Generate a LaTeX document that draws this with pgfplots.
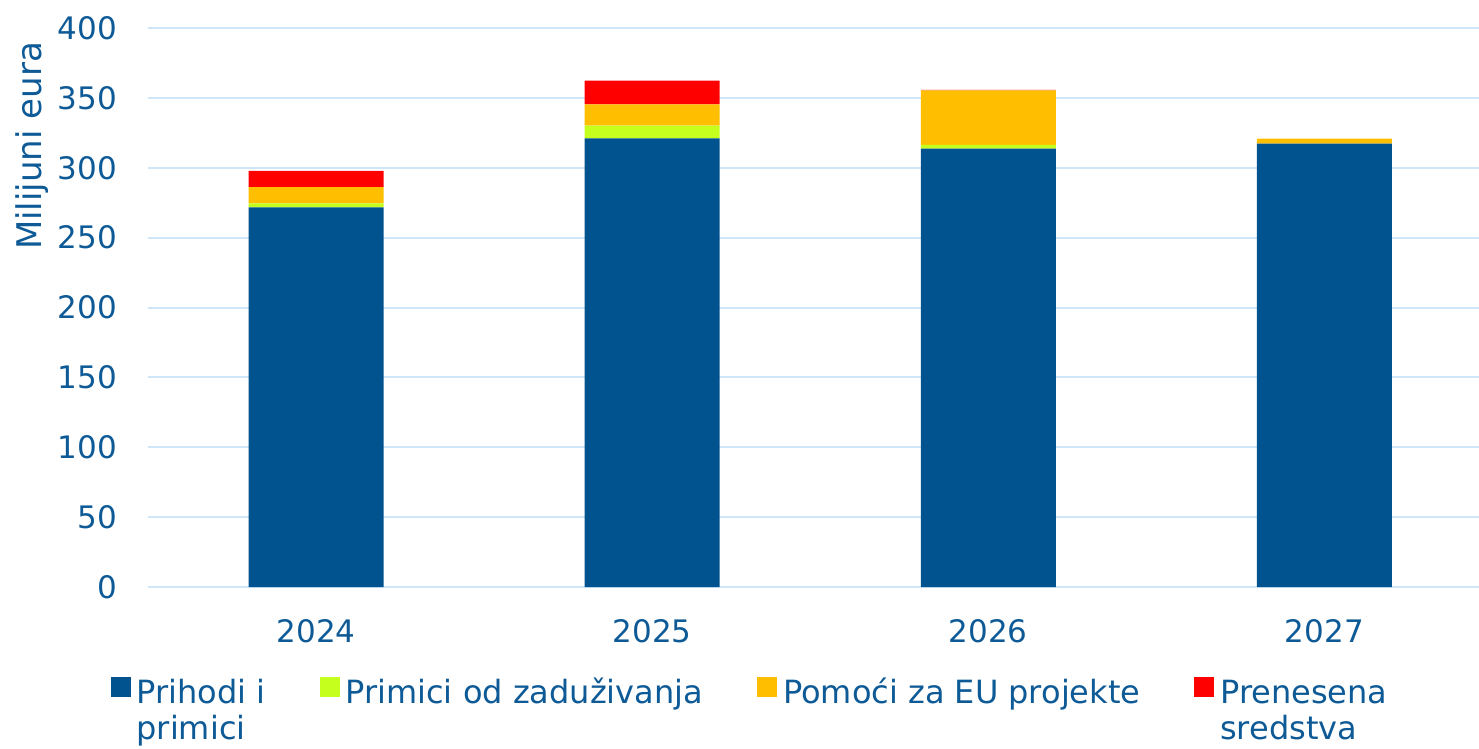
\documentclass[border=0pt]{standalone}
\usepackage{fontspec}
\setmainfont{DejaVu Sans}
\usepackage{pgfplots}
\pgfplotsset{compat=1.18}
\definecolor{cblue}{HTML}{00538F}
\definecolor{cgreen}{HTML}{C4FF1E}
\definecolor{corange}{HTML}{FFBF00}
\definecolor{cred}{HTML}{FF0000}
\definecolor{ctext}{HTML}{0D5A96}
\definecolor{cgrid}{HTML}{CFE6F8}
\begin{document}
\fontsize{31}{38}\selectfont
\begin{tikzpicture}
\path[use as bounding box] (-148pt,-161pt) rectangle (1331pt,587pt);
\begin{axis}[
  at={(0pt,0pt)}, anchor=south west,
  scale only axis,
  width=1331pt, height=559pt,
  ybar stacked, bar width=135pt,
  xmin=-0.5, xmax=3.46,
  ymin=0, ymax=400,
  ytick={0,50,...,400},
  xtick={0,1,2,3},
  xticklabels={2024,2025,2026,2027},
  axis line style={draw=none},
  major tick length=0pt,
  ymajorgrids, grid style={cgrid, line width=2pt},
  tick label style={font=\fontsize{31}{38}\selectfont, text=ctext},
  /pgf/number format/assume math mode=true,
  yticklabel style={inner sep=0pt, xshift=-31pt},
  xticklabel style={inner sep=0pt, yshift=-32pt},
  ylabel={Milijuni eura},
  ylabel style={at={(axis description cs:-0.087,0.789)}, anchor=center, font=\fontsize{34}{40}\selectfont, text=ctext},
  legend columns=4,
  legend style={draw=none, fill=none, at={(axis description cs:-0.0305,-0.157)}, anchor=north west,
    font=\fontsize{32}{36}\selectfont, text=ctext,
    /tikz/every even column/.append style={column sep=54pt},
    nodes={inner sep=0pt}},
  legend cell align=left,
  legend image code/.code={\fill[#1,draw=none] (0pt,-4pt) rectangle (20pt,16pt); \path (26pt,0pt);},
]
\addplot[fill=cblue, draw=none] coordinates {(0,271.7) (1,321.1) (2,313.6) (3,317.2)};
\addplot[fill=cgreen, draw=none] coordinates {(0,2.9) (1,9.0) (2,2.7) (3,0)};
\addplot[fill=corange, draw=none] coordinates {(0,11.6) (1,15.3) (2,39.1) (3,3.6)};
\addplot[fill=cred, draw=none] coordinates {(0,11.5) (1,16.9) (2,0.3) (3,0)};
\legend{{\begin{tabular}[t]{@{}l@{}}Prihodi i\\primici\end{tabular}},
        Primici od zaduživanja,
        Pomoći za EU projekte,
        {\begin{tabular}[t]{@{}l@{}}Prenesena\\sredstva\end{tabular}}}
\end{axis}
\end{tikzpicture}
\end{document}
